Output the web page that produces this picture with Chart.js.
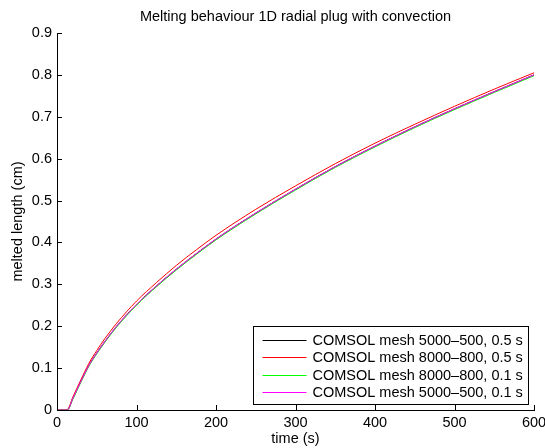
<!DOCTYPE html>
<html>
<head>
<meta charset="utf-8">
<script src="https://cdn.jsdelivr.net/npm/chart.js@4/dist/chart.umd.min.js"></script>
<style>
  html, body { margin: 0; padding: 0; background: #fff; }
  canvas { display: block; }
</style>
</head>
<body>
<canvas id="grafico" width="545" height="448"></canvas>
<script>
// ======== DADOS ===========
const tempo = [0, 10, 13, 20, 30, 40, 50, 60, 75, 100, 125, 150, 175, 200, 250, 300, 350, 400, 450, 500, 550, 600];

const preto5000 = [0, 0, 0, 0.028, 0.068, 0.106, 0.136, 0.163, 0.200, 0.252, 0.296, 0.336, 0.373, 0.408, 0.470, 0.527, 0.581, 0.630, 0.676, 0.719, 0.760, 0.800];
const vermelho8000 = [0, 0, 0.001, 0.031, 0.072, 0.111, 0.142, 0.170, 0.207, 0.260, 0.304, 0.345, 0.382, 0.417, 0.479, 0.535, 0.588, 0.637, 0.682, 0.725, 0.766, 0.805];
const verde8000 = [0, 0, 0, 0.026, 0.066, 0.104, 0.134, 0.161, 0.198, 0.250, 0.294, 0.334, 0.371, 0.406, 0.468, 0.525, 0.579, 0.628, 0.674, 0.717, 0.758, 0.798];
const magenta5000 = [0, 0, 0, 0.028, 0.068, 0.106, 0.136, 0.163, 0.200, 0.252, 0.296, 0.336, 0.373, 0.408, 0.470, 0.527, 0.581, 0.630, 0.676, 0.719, 0.760, 0.800];

const rotulos = [
  'COMSOL mesh 5000\u2013500, 0.5 s',
  'COMSOL mesh 8000\u2013800, 0.5 s',
  'COMSOL mesh 8000\u2013800, 0.1 s',
  'COMSOL mesh 5000\u2013500, 0.1 s'
];
const cores = ['#000000', '#ff0000', '#00ff00', '#ff00ff'];

const titulo = 'Melting behaviour 1D radial plug with convection';
const FONTE = '"Liberation Sans", Arial, Helvetica, sans-serif';

const pontos = serie => tempo.map((t, i) => ({ x: t, y: serie[i] }));

// ======== PLUGINS ===========
// titulo centrado na area do grafico
const tituloPlugin = {
  id: 'tituloPlugin',
  afterDraw(chart) {
    const { ctx, chartArea } = chart;
    ctx.save();
    ctx.font = '14.5px ' + FONTE;
    ctx.fillStyle = '#000';
    ctx.textAlign = 'center';
    ctx.textBaseline = 'middle';
    ctx.fillText(titulo, (chartArea.left + chartArea.right) / 2, 17);
    ctx.restore();
  }
};

// ticks para dentro, estilo matlab
const ticksPlugin = {
  id: 'ticksPlugin',
  afterDraw(chart) {
    const { ctx, chartArea, scales } = chart;
    ctx.save();
    ctx.strokeStyle = '#000';
    ctx.lineWidth = 1;
    ctx.beginPath();
    scales.x.ticks.forEach(t => {
      const px = Math.round(scales.x.getPixelForValue(t.value)) + 0.5;
      ctx.moveTo(px, chartArea.bottom);
      ctx.lineTo(px, chartArea.bottom - 5);
    });
    scales.y.ticks.forEach(t => {
      const py = Math.round(scales.y.getPixelForValue(t.value)) + 0.5;
      ctx.moveTo(chartArea.left, py);
      ctx.lineTo(chartArea.left + 5, py);
    });
    ctx.stroke();
    ctx.restore();
  }
};

// legenda dentro do grafico, canto inferior direito
const legendaPlugin = {
  id: 'legendaPlugin',
  afterDraw(chart) {
    const { ctx, chartArea } = chart;
    const w = 275, h = 78;
    const x0 = Math.round(chartArea.right - 6.5 - w) + 0.5;
    const y0 = Math.round(chartArea.bottom - 6.5 - h) + 0.5;
    ctx.save();
    ctx.fillStyle = '#fff';
    ctx.fillRect(x0, y0, w, h);
    ctx.strokeStyle = '#000';
    ctx.lineWidth = 1;
    ctx.strokeRect(x0, y0, w, h);
    ctx.font = '14.5px ' + FONTE;
    ctx.textBaseline = 'middle';
    ctx.textAlign = 'left';
    chart.data.datasets.forEach((ds, i) => {
      const y = Math.round(y0 + 13.5 + i * 17.4) + 0.5;
      ctx.strokeStyle = ds.borderColor;
      ctx.beginPath();
      ctx.moveTo(x0 + 9, y);
      ctx.lineTo(x0 + 53, y);
      ctx.stroke();
      ctx.fillStyle = '#000';
      ctx.fillText(ds.label, x0 + 59, y);
    });
    ctx.restore();
  }
};

// ======== GRAFICO ==========
const series = [preto5000, vermelho8000, verde8000, magenta5000];

new Chart(document.getElementById('grafico'), {
  type: 'line',
  data: {
    datasets: series.map((s, i) => ({
      label: rotulos[i],
      data: pontos(s),
      borderColor: cores[i],
      backgroundColor: cores[i],
      borderWidth: 1,
      pointRadius: 0,
      fill: false,
      cubicInterpolationMode: 'monotone',
      order: 3 - i
    }))
  },
  options: {
    responsive: false,
    animation: false,
    devicePixelRatio: 1,
    layout: { padding: { left: 0, top: 33, right: 11, bottom: 0 } },
    plugins: {
      legend: { display: false },
      title: { display: false },
      tooltip: { enabled: false }
    },
    scales: {
      x: {
        type: 'linear',
        min: 0,
        max: 600,
        ticks: { stepSize: 100, padding: 4, color: '#000', font: { family: FONTE, size: 14.5 }, maxRotation: 0 },
        grid: { drawOnChartArea: false, drawTicks: false },
        border: { display: true, color: '#000', width: 1 },
        title: { display: true, text: 'time (s)', color: '#000', font: { family: FONTE, size: 14.5 }, padding: { top: 0, bottom: 0 } },
        afterFit: s => { s.height = 38; s.paddingLeft = 0; s.paddingRight = 0; }
      },
      y: {
        min: 0,
        max: 0.9,
        ticks: { stepSize: 0.1, padding: 5, color: '#000', font: { family: FONTE, size: 14.5 } },
        grid: { drawOnChartArea: false, drawTicks: false },
        border: { display: true, color: '#000', width: 1 },
        title: { display: true, text: 'melted length (cm)', color: '#000', font: { family: FONTE, size: 14.5 }, padding: { top: 9, bottom: 0 } },
        afterFit: s => { s.width = 57; s.paddingTop = 0; s.paddingBottom = 0; }
      }
    }
  },
  plugins: [tituloPlugin, ticksPlugin, legendaPlugin]
});
</script>
</body>
</html>
